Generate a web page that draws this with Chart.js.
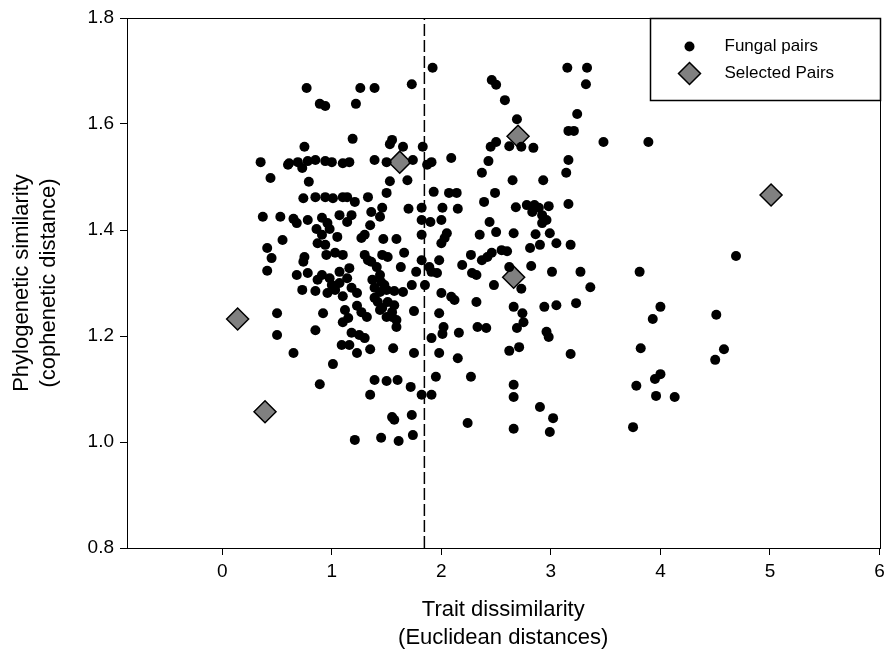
<!DOCTYPE html>
<html>
<head>
<meta charset="utf-8">
<script src="https://cdn.jsdelivr.net/npm/chart.js@4"></script>
<style>
  html, body { margin: 0; padding: 0; background: #fff; }
</style>
</head>
<body>
<canvas id="myChart" width="892" height="662"></canvas>
<script>
// trait dissimilarity (x) vs cophenetic distance (y)
let fungalPairs = [
  [0.77,1.668],[0.89,1.638],[0.94,1.634],[0.75,1.557],[0.35,1.528],[0.61,1.526],[0.69,1.528],[0.78,1.530],
  [0.85,1.532],[0.94,1.530],[1.00,1.528],[1.10,1.526],
  [1.92,1.706],[1.73,1.675],[1.26,1.668],[1.39,1.668],[1.22,1.638],[1.19,1.572],[1.55,1.570],[1.53,1.562],
  [1.65,1.557],[1.83,1.557],[1.16,1.528],[1.39,1.532],[1.50,1.528],[1.74,1.532],[1.91,1.528],[2.09,1.536],
  [2.46,1.683],[2.50,1.674],[2.58,1.645],[3.15,1.706],[3.33,1.706],[3.32,1.675],[3.24,1.619],[2.69,1.609],
  [3.16,1.587],[3.21,1.587],[2.50,1.566],[2.45,1.557],[2.62,1.558],[2.73,1.557],[2.84,1.555],[2.43,1.530],
  [3.16,1.532],[3.48,1.566],[3.89,1.566],
  [0.44,1.498],[0.79,1.491],[0.60,1.523],[0.73,1.517],[0.74,1.460],[0.85,1.462],[0.94,1.462],[1.01,1.460],
  [1.10,1.462],[0.37,1.425],[0.53,1.425],[0.65,1.421],[0.68,1.413],[0.78,1.419],[0.91,1.423],[0.96,1.413],
  [1.07,1.428],[0.91,1.391],[0.87,1.375],[1.05,1.387],[0.55,1.381],[0.41,1.366],[0.45,1.347],[0.75,1.349],
  [0.74,1.340],[0.95,1.353],[1.03,1.357],[1.10,1.353],[0.41,1.323],[0.68,1.315],[0.78,1.319],[0.91,1.315],
  [0.87,1.306],[1.07,1.321],[1.00,1.296],[0.96,1.281],[0.73,1.287],[0.85,1.285],[1.07,1.300],
  [0.86,1.402],[0.98,1.402],[0.94,1.372],[1.03,1.287],[1.10,1.275],[0.98,1.309],
  [1.53,1.492],[1.69,1.494],[1.50,1.470],[1.14,1.462],[1.21,1.453],[1.33,1.462],[1.46,1.442],[1.36,1.434],
  [1.44,1.425],[1.18,1.428],[1.14,1.415],[1.35,1.409],[1.30,1.391],[1.27,1.385],[1.47,1.383],[1.59,1.383],
  [1.70,1.440],[1.82,1.442],[1.82,1.419],[1.90,1.415],[2.00,1.419],[1.93,1.472],[2.07,1.470],[2.14,1.470],
  [2.01,1.442],[2.15,1.440],[2.05,1.394],[2.03,1.385],[2.00,1.375],[1.82,1.391],[1.66,1.357],[1.30,1.353],
  [1.46,1.353],[1.51,1.349],[1.36,1.340],[1.41,1.330],[1.63,1.330],[1.82,1.343],[1.98,1.343],[1.89,1.330],
  [1.77,1.321],[1.91,1.321],[1.96,1.319],[1.44,1.315],[1.45,1.302],[1.16,1.328],[1.14,1.309],[1.18,1.291],
  [1.23,1.281],[1.39,1.291],[1.44,1.283],[1.50,1.287],[1.57,1.285],[1.65,1.283],[1.73,1.296],[1.85,1.296],
  [2.00,1.281],[2.09,1.274],[2.12,1.268],[2.19,1.334],[2.27,1.353],[2.28,1.319],[1.39,1.272],[1.42,1.264],
  [1.51,1.264],[1.57,1.258],[1.87,1.523],[1.33,1.343],[1.48,1.296],[1.37,1.306],
  [2.37,1.508],[2.65,1.494],[2.93,1.494],[3.14,1.508],[2.49,1.470],[2.39,1.453],[2.68,1.443],[2.78,1.447],
  [2.83,1.434],[2.89,1.442],[2.98,1.445],[2.92,1.428],[2.92,1.413],[3.16,1.449],[2.44,1.415],[2.50,1.396],
  [2.35,1.391],[2.66,1.394],[2.86,1.392],[2.99,1.394],[2.90,1.372],[2.81,1.366],[3.05,1.375],[3.18,1.372],
  [2.55,1.362],[2.60,1.360],[2.46,1.357],[2.42,1.349],[2.37,1.343],[2.62,1.330],[2.82,1.332],[3.01,1.321],
  [3.27,1.321],[2.73,1.289],[2.48,1.296],[2.32,1.315],[3.36,1.292],[2.32,1.264],[2.66,1.255],[2.94,1.255],
  [3.05,1.258],[3.23,1.262],[2.85,1.447],[2.96,1.419],
  [4.69,1.351],[3.81,1.321],[4.00,1.255],
  [0.50,1.243],[0.92,1.243],[0.50,1.202],[0.85,1.211],[0.65,1.168],[1.01,1.147],[0.89,1.109],[1.10,1.226],
  [1.09,1.183],
  [1.15,1.234],[1.32,1.236],[1.44,1.249],[1.50,1.236],[1.55,1.236],[1.59,1.217],[1.75,1.247],[1.18,1.206],
  [1.25,1.202],[1.30,1.196],[1.16,1.183],[1.23,1.168],[1.35,1.175],[1.56,1.177],[1.75,1.168],[1.91,1.196],
  [1.98,1.243],[2.02,1.217],[2.01,1.204],[1.98,1.168],[2.16,1.206],[2.15,1.158],[1.39,1.117],[1.50,1.115],
  [1.60,1.117],[1.72,1.104],[1.35,1.089],[1.82,1.089],[1.91,1.089],[1.95,1.123],[2.27,1.123],[1.55,1.047],
  [1.57,1.042],[1.73,1.051],[2.24,1.036],[1.21,1.004],[1.45,1.008],[1.61,1.002],[1.74,1.013],
  [1.12,1.249],[1.23,1.257],[1.27,1.245],[1.46,1.253],[1.55,1.245],[1.59,1.230],
  [2.74,1.243],[2.75,1.226],[2.69,1.215],[2.33,1.217],[2.41,1.215],[2.96,1.208],[2.98,1.198],[2.71,1.179],
  [2.62,1.172],[3.18,1.166],[2.66,1.108],[2.66,1.085],[2.90,1.066],[3.02,1.045],[2.66,1.025],[2.99,1.019],
  [3.93,1.232],[4.51,1.240],[3.82,1.177],[4.58,1.175],[4.50,1.155],[4.00,1.128],[3.95,1.119],[3.78,1.106],
  [3.96,1.087],[4.13,1.085],[3.75,1.028]
];
let selectedPairs = [[0.14,1.232],[0.39,1.057],[1.62,1.528],[2.70,1.577],[2.66,1.311],[5.01,1.466]];
let cutoff = 1.845;   // dashed vertical line
let xTicks = [0, 1, 2, 3, 4, 5, 6];
let yTicks = [0.8, 1.0, 1.2, 1.4, 1.6, 1.8];
let xRange = [-0.87, 6];
let yRange = [0.8, 1.8];

let toPts = arr => arr.map(p => ({x: p[0], y: p[1]}));
let font = "'Liberation Sans', Arial, sans-serif";

// legend drawn as a boxed panel in the top right corner of the plot
const boxLegend = {
  id: 'boxLegend',
  afterDraw(chart) {
    const ctx = chart.ctx, a = chart.chartArea;
    ctx.save();
    // frame of the plot
    ctx.strokeStyle = '#000';
    ctx.lineWidth = 1;
    ctx.strokeRect(Math.round(a.left) + 0.5, Math.round(a.top) + 0.5,
                   Math.round(a.right - a.left), Math.round(a.bottom - a.top));
    const w = 230, h = 82;
    const x0 = Math.round(a.right - w) + 0.5, y0 = Math.round(a.top) + 0.5;
    ctx.fillStyle = '#fff';
    ctx.fillRect(x0, y0, w, h);
    ctx.lineWidth = 1.5;
    ctx.strokeRect(x0, y0, w, h);
    ctx.font = '17px ' + font;
    ctx.textBaseline = 'middle';
    ctx.textAlign = 'left';
    chart.data.datasets.filter(d => d.label).forEach((ds, i) => {
      const cx = x0 + 39, cy = y0 + 28 + i * 27;
      ctx.fillStyle = ds.backgroundColor;
      ctx.strokeStyle = ds.borderColor;
      ctx.lineWidth = ds.borderWidth;
      ctx.beginPath();
      if (ds.pointStyle === 'rectRot') {
        const r = ds.pointRadius;
        ctx.moveTo(cx, cy - r); ctx.lineTo(cx + r, cy); ctx.lineTo(cx, cy + r); ctx.lineTo(cx - r, cy);
        ctx.closePath();
      } else {
        ctx.arc(cx, cy, ds.pointRadius, 0, Math.PI * 2);
      }
      ctx.fill();
      if (ds.borderWidth) ctx.stroke();
      ctx.fillStyle = '#000';
      ctx.fillText(ds.label, x0 + 74, cy);
    });
    ctx.restore();
  }
};

let ctx = document.getElementById('myChart').getContext('2d');
let myChart = new Chart(ctx, {
  type: 'scatter',
  data: {
    datasets: [{
      type: 'line',
      data: [{x: cutoff, y: yRange[0]}, {x: cutoff, y: yRange[1]}],
      borderColor: '#000',
      borderWidth: 1.5,
      borderDash: [12, 4],
      pointRadius: 0,
      fill: false
    }, {
      label: 'Fungal pairs',
      data: toPts(fungalPairs),
      pointStyle: 'circle',
      pointRadius: 5,
      backgroundColor: '#000',
      borderColor: '#000',
      borderWidth: 0
    }, {
      label: 'Selected Pairs',
      data: toPts(selectedPairs),
      pointStyle: 'rectRot',
      pointRadius: 11,
      backgroundColor: '#808080',
      borderColor: '#000',
      borderWidth: 1.5
    }]
  },
  options: {
    responsive: false,
    animation: false,
    devicePixelRatio: 1,
    layout: { padding: { top: 18, right: 11, left: 0, bottom: 0 } },
    plugins: {
      legend: { display: false },
      tooltip: { enabled: false }
    },
    scales: {
      x: {
        type: 'linear',
        min: xRange[0],
        max: xRange[1],
        afterBuildTicks: s => { s.ticks = xTicks.map(v => ({value: v})); },
        afterFit: s => { s.height = 114; },
        grid: { drawOnChartArea: false, color: '#000', tickLength: 7, tickWidth: 1 },
        border: { color: '#000', width: 1 },
        ticks: { color: '#000', padding: 5, font: { size: 19, family: font } },
        title: {
          display: true,
          text: ['Trait dissimilarity', '(Euclidean distances)'],
          color: '#000',
          font: { size: 22, family: font, lineHeight: 1.23 },
          padding: { top: 0, bottom: 11 }
        }
      },
      y: {
        type: 'linear',
        min: yRange[0],
        max: yRange[1],
        afterBuildTicks: s => { s.ticks = yTicks.map(v => ({value: v})); },
        afterFit: s => { s.width = 127; },
        grid: { drawOnChartArea: false, color: '#000', tickLength: 7, tickWidth: 1 },
        border: { color: '#000', width: 1 },
        ticks: {
          color: '#000', padding: 6, font: { size: 19, family: font },
          callback: v => v.toFixed(1)
        },
        title: {
          display: true,
          text: ['Phylogenetic similarity', '(cophenetic distance)'],
          color: '#000',
          font: { size: 22, family: font, lineHeight: 1.23 },
          padding: { top: 8, bottom: 0 }
        }
      }
    }
  },
  plugins: [boxLegend]
});
</script>
</body>
</html>
